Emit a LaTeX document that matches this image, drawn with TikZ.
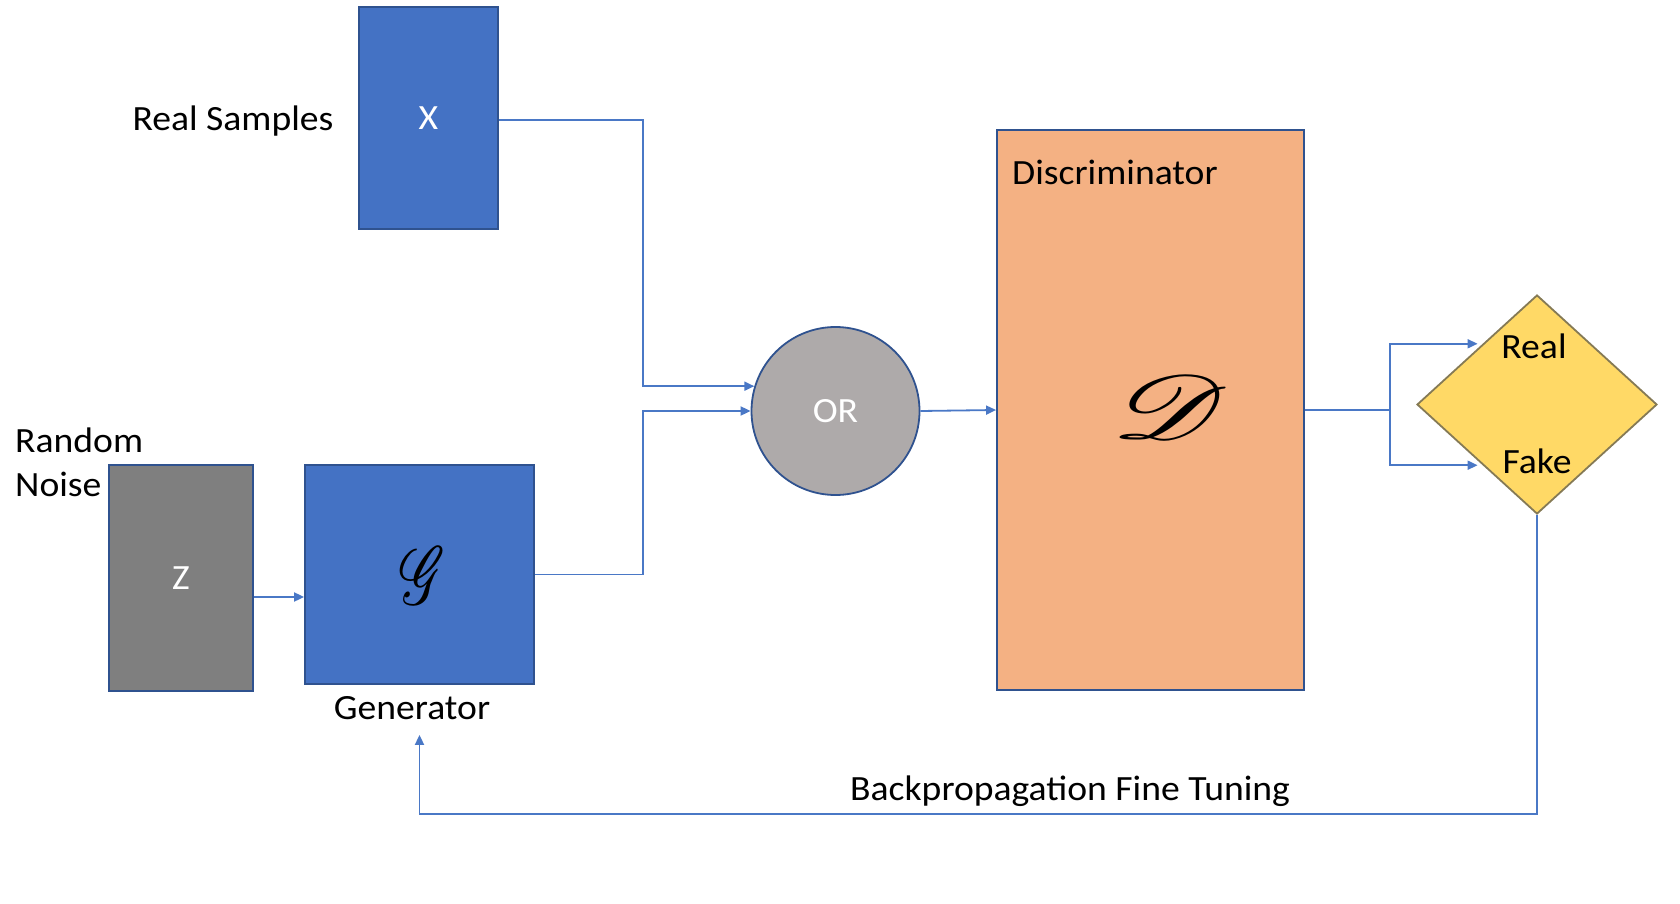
\documentclass[tikz,border=0pt]{standalone}
\usepackage{fontspec}
\setmainfont{Carlito}[FakeStretch=1.06]
\usepackage{mathrsfs}
\usepackage{graphicx}
\usetikzlibrary{shapes.geometric,arrows.meta,calc}
\definecolor{boxblue}{HTML}{4472C4}
\definecolor{edgeblue}{HTML}{2F528F}
\definecolor{linkblue}{HTML}{4A78C6}
\definecolor{zgray}{HTML}{7F7F7F}
\definecolor{orgray}{HTML}{AEAAAA}
\definecolor{dorange}{HTML}{F4B183}
\definecolor{dyellow}{HTML}{FFD966}
\definecolor{dedge}{HTML}{857A55}
\tikzset{
  lbl/.style={font=\fontsize{35.5}{42}\selectfont, inner sep=0pt, text=black},
  wlbl/.style={font=\fontsize{35.5}{42}\selectfont, inner sep=0pt, text=white},
  blockbox/.style={rectangle, draw=edgeblue, line width=1.8pt, inner sep=0pt},
  conn/.style={draw=linkblue, line width=1.8pt},
  arr/.style={conn, -{Triangle[length=10pt,width=9pt]}},
}
\begin{document}
\begin{tikzpicture}[x=1pt,y=-1pt]
\useasboundingbox (0,0) rectangle (1680,904);
% boxes
\node[blockbox, fill=boxblue, minimum width=139pt, minimum height=222pt] (X) at (428.5,118) {};
\node[wlbl] (Xt) at (X.center) {X};
\node[blockbox, fill=zgray, minimum width=144pt, minimum height=226pt] (Z) at (181,578) {};
\node[wlbl] (Zt) at (Z.center) {Z};
\node[blockbox, fill=boxblue, minimum width=229pt, minimum height=219pt] (G) at (419.5,574.5) {};
\node[inner sep=0pt] (Gs) at (423,576) {\fontsize{10}{12}\selectfont\scalebox{5.9}[8.2]{$\mathscr{G}$}};
\node[circle, draw=edgeblue, line width=1.8pt, fill=orgray, minimum size=168pt, inner sep=0pt] (OR) at (835.5,411) {};
\node[wlbl] (ORt) at (OR.center) {OR};
\node[blockbox, fill=dorange, minimum width=307pt, minimum height=560pt] (D) at (1150.5,410) {};
\node[inner sep=0pt] (Ds) at (1170,407) {\fontsize{10}{12}\selectfont\scalebox{13.5}[9]{$\mathscr{D}$}};
\node[diamond, draw=dedge, line width=1.8pt, fill=dyellow, minimum width=240pt, minimum height=219pt, inner sep=0pt] (dia) at (1537,404.5) {};
% labels
\node[lbl, anchor=base] (rs) at (233,131) {Real Samples};
\node[lbl, anchor=base west] (rn1) at (15,452) {Random};
\node[lbl, anchor=base west] (rn2) at (15,496) {Noise};
\node[lbl, anchor=base] (gen) at (412,719) {Generator};
\node[lbl, anchor=base west] (disc) at (1012,185) {Discriminator};
\node[lbl, anchor=base] (real) at (1534,358) {Real};
\node[lbl, anchor=base] (fake) at (1537,473) {Fake};
\node[lbl, anchor=base west] (bp) at (850,800) {Backpropagation Fine Tuning};
% connectors
\coordinate (jx) at (643,120);
\draw[arr] (X.east |- jx) -- (jx) |- (OR.163.4);
\draw[arr] (G.east) -| (jx |- OR.west) -- (OR.west);
\draw[arr] ($(Z.east)+(0,19)$) -- ($(G.west)+(0,22.5)$);
\draw[arr] (OR.east) -- (D.west);
\coordinate (jd) at (1390,410);
\draw[conn] (D.east) -- (jd);
\draw[arr, shorten >=5pt] (jd) |- ($(dia.west)!0.55!(dia.north)$);
\draw[arr, shorten >=5pt] (jd) |- ($(dia.west)!0.55!(dia.south)$);
\coordinate (fb) at (1537,814);
\draw[arr] (dia.south) -- (fb) -- (G.south |- fb) -- ($(G.south)+(0,50)$);
\end{tikzpicture}
\end{document}
